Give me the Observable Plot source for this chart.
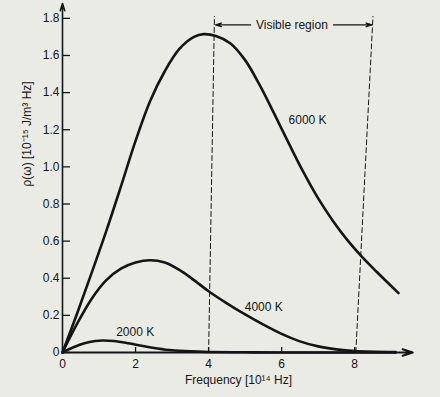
<!DOCTYPE html>
<html>
<head>
<meta charset="utf-8">
<script src="https://cdn.jsdelivr.net/npm/d3@7"></script>
<script src="https://cdn.jsdelivr.net/npm/@observablehq/plot@0.6"></script>
<style>
  html, body { margin: 0; padding: 0; background: #ebebe6; }
  #chart { width: 440px; height: 397px; }
</style>
</head>
<body>
<div id="chart"></div>
<script>
// Frequency in 10^14 Hz, energy density in 10^-15 J/m^3 Hz
const freq6000 = [0, 0.4, 0.8, 1.2, 1.6, 2.0, 2.4, 2.8, 3.2, 3.6, 3.86, 4.2, 4.6, 5.0, 5.4, 5.8, 6.2, 6.6, 7.0, 7.4, 7.8, 8.2, 8.6, 9.2];
const rho6000  = [0, 0.21, 0.43, 0.655, 0.895, 1.14, 1.355, 1.515, 1.635, 1.70, 1.715, 1.705, 1.665, 1.575, 1.44, 1.285, 1.125, 0.97, 0.83, 0.71, 0.605, 0.515, 0.435, 0.32];

const freq4000 = [0, 0.4, 0.8, 1.2, 1.6, 2.0, 2.4, 2.8, 3.2, 3.6, 4.0, 4.5, 5.0, 5.5, 6.0, 6.5, 7.0, 7.5, 8.0, 9.12];
const rho4000  = [0, 0.155, 0.29, 0.39, 0.452, 0.485, 0.497, 0.485, 0.445, 0.39, 0.33, 0.265, 0.205, 0.15, 0.10, 0.06, 0.033, 0.017, 0.008, 0.002];

const freq2000 = [0, 0.3, 0.6, 0.9, 1.1, 1.4, 1.8, 2.2, 2.6, 3.0, 3.5, 4.0, 5, 6, 7, 8, 9.12];
const rho2000  = [0, 0.028, 0.05, 0.062, 0.065, 0.062, 0.05, 0.035, 0.022, 0.012, 0.006, 0.003, 0.001, 0, 0, 0, 0];

const seriesNames = ["6000 K", "4000 K", "2000 K"];
const labelFreq = [6.71, 5.51, 1.99];
const labelRho  = [1.249, 0.242, 0.108];

const xTicks = [0, 2, 4, 6, 8];
const yTicks = [0, 0.2, 0.4, 0.6, 0.8, 1.0, 1.2, 1.4, 1.6, 1.8];

// Visible-region boundaries (dashed, slightly slanted as in the photo)
const visibleLeftX  = [4, 4.16];
const visibleRightX = [8.03, 8.5];
const visibleY      = [0, 1.81];
const visibleArrowFrom = [5.15, 7.42];
const visibleArrowTo   = [4.19, 8.47];
const visibleArrowRho  = 1.765;
const visibleText = "Visible region";
const visibleTextFreq = 6.28;

const xTitle = "Frequency [10\u00B9\u2074 Hz]";
const yTitle = "\u03C1(\u03C9) [10\u207B\u00B9\u2075 J/m\u00B3 Hz]";

const xMax = 9.5, yMax = 1.88, xArrowEnd = 9.59;

// Build tables for the library
const curves = [
  ...freq6000.map((f, i) => ({T: seriesNames[0], f, rho: rho6000[i]})),
  ...freq4000.map((f, i) => ({T: seriesNames[1], f, rho: rho4000[i]})),
  ...freq2000.map((f, i) => ({T: seriesNames[2], f, rho: rho2000[i]}))
];
const labels = seriesNames.map((t, i) => ({t, f: labelFreq[i], rho: labelRho[i]}));
const dashes = [
  ...visibleLeftX.map((f, i) => ({id: "L", f, rho: visibleY[i]})),
  ...visibleRightX.map((f, i) => ({id: "R", f, rho: visibleY[i]}))
];
const visArrows = visibleArrowFrom.map((f, i) => ({x1: f, x2: visibleArrowTo[i], y: visibleArrowRho}));

const font = "'Liberation Sans', Arial, Helvetica, sans-serif";
const ink = "#151515";

const chart = Plot.plot({
  width: 440,
  height: 397,
  marginLeft: 62,
  marginRight: 31,
  marginTop: 3,
  marginBottom: 45,
  x: {domain: [0, xMax]},
  y: {domain: [0, yMax]},
  style: {background: "transparent", fontFamily: font, fontSize: "12px", color: ink},
  marks: [
    // dashed visible-region bounds
    Plot.line(dashes, {x: "f", y: "rho", z: "id", stroke: ink, strokeWidth: 1, strokeDasharray: "5,3"}),
    // visible-region arrows and label
    Plot.arrow(visArrows, {x1: "x1", x2: "x2", y1: "y", y2: "y", stroke: ink, strokeWidth: 1.3, headLength: 7, headAngle: 35}),
    Plot.text([visibleText], {x: visibleTextFreq, y: visibleArrowRho, text: d => d, fill: ink, fontSize: 12}),
    // inward ticks
    Plot.axisY(yTicks, {tickSize: 8, dx: 8, tickFormat: () => "", label: null, stroke: ink, strokeWidth: 1.3}),
    Plot.axisY(yTicks, {tickSize: 0, tickPadding: 3, tickFormat: d => d === 0 ? "0" : d.toFixed(1), label: null, fill: ink, fontSize: 12}),
    Plot.axisX(xTicks, {tickSize: 5, dy: -5, tickFormat: () => "", label: null, stroke: ink, strokeWidth: 1.3}),
    Plot.axisX(xTicks, {tickSize: 0, tickPadding: 7, tickFormat: d => String(d), label: null, fill: ink, fontSize: 12}),
    // axis lines with arrows
    Plot.arrow([{x1: 0, y1: 0, x2: 0, y2: yMax}], {x1: "x1", y1: "y1", x2: "x2", y2: "y2", stroke: ink, strokeWidth: 1.6, headLength: 7, headAngle: 35}),
    Plot.arrow([{x1: 0, y1: 0, x2: xArrowEnd, y2: 0}], {x1: "x1", y1: "y1", x2: "x2", y2: "y2", stroke: ink, strokeWidth: 2, headLength: 8, headAngle: 35}),
    // curves
    Plot.line(curves, {x: "f", y: "rho", z: "T", curve: "catmull-rom", stroke: ink, strokeWidth: 2.6}),
    // curve labels
    Plot.text(labels, {x: "f", y: "rho", text: "t", fill: ink, fontSize: 12}),
    // axis titles
    Plot.text([xTitle], {frameAnchor: "bottom", dx: 2.5, dy: 31, text: d => d, fill: ink, fontSize: 12}),
    Plot.text([yTitle], {frameAnchor: "left", dx: -35, dy: 8.5, rotate: -90, text: d => d, fill: ink, fontSize: 12})
  ]
});
document.getElementById("chart").append(chart);
</script>
</body>
</html>
